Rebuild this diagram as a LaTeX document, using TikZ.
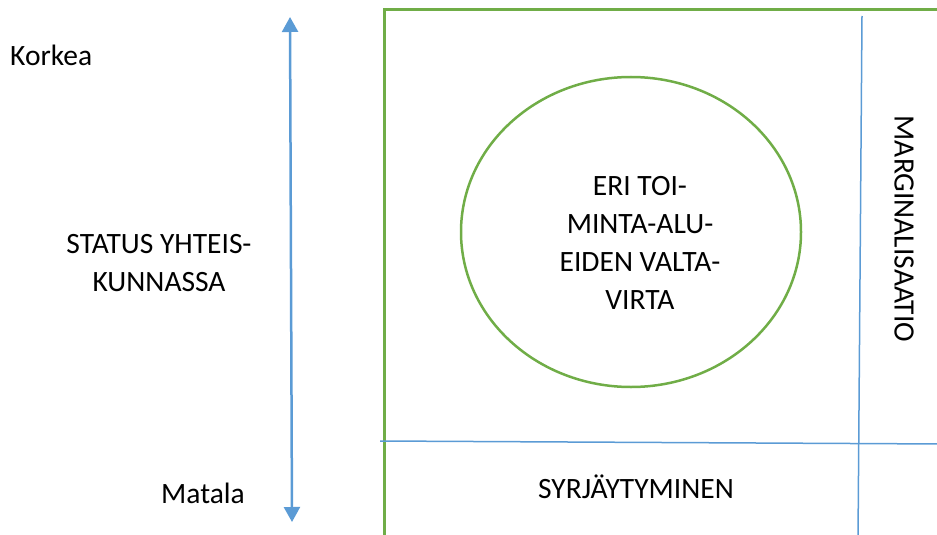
\documentclass[tikz,border=0pt]{standalone}
\usepackage{fontspec}
\setmainfont{Carlito}
\usetikzlibrary{arrows.meta}
\definecolor{leafgreen}{HTML}{70AD47}
\definecolor{skyblue}{HTML}{5B9BD5}

\begin{document}
\begin{tikzpicture}[x=1pt,y=-1pt,lbl/.style={font=\fontsize{29.5pt}{38pt}\selectfont,inner sep=0pt,align=center},frame/.style={draw=leafgreen,line width=3pt},divider/.style={draw=skyblue,line width=1.5pt},axis/.style={draw=skyblue,line width=2.5pt,{Triangle[width=16pt,length=15pt]}-{Triangle[width=16pt,length=15pt]}}]
\useasboundingbox (0,0) rectangle (937,535);

% status axis
\coordinate (high) at (290,17);
\coordinate (low) at (292,522);
\draw[axis] (high) -- (low);
\node[lbl,anchor=base west] (korkea) at (10,66) {Korkea};
\node[lbl,anchor=base] (matala) at (203,503) {Matala};
\node[lbl] (status) at (159,263) {STATUS YHTEIS-\\KUNNASSA};

% frame and dividers
\draw[frame] (384,545) |- (945,10);
\draw[divider] (862,16) -- (858,540);
\draw[divider] (380,441) -- (945,444);

% centre of power
\draw[leafgreen,line width=2.5pt] (631,232) ellipse (170 and 155);
\node[lbl] (valta) at (640,243) {ERI TOI-\\MINTA-ALU-\\EIDEN VALTA-\\VIRTA};

\node[lbl,rotate=-90] (margin) at (904,229) {MARGINALISAATIO};
\node[lbl,anchor=base] (syrja) at (636,498) {SYRJÄYTYMINEN};

\end{tikzpicture}
\end{document}
